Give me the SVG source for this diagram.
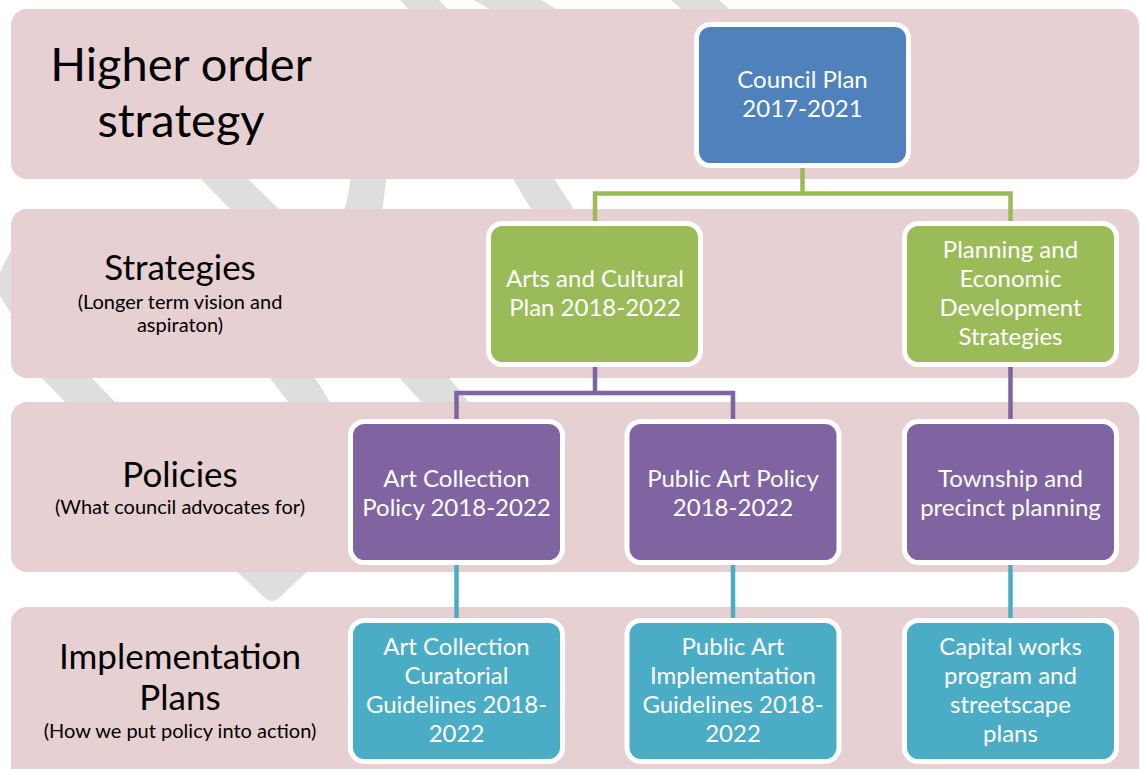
<svg xmlns="http://www.w3.org/2000/svg" width="1140" height="769" viewBox="0 0 1140 769">
  <style>
    .bg { fill: #DEDEDE; }
    .band { fill: #E7D0D1; }
    .box { stroke: #FFFFFF; stroke-width: 5; }
    .blue { fill: #4F81BD; }
    .green { fill: #9BBB59; }
    .purple { fill: #8064A2; }
    .teal { fill: #4BACC6; }
    .nt { font-family: Lato, "Open Sans", sans-serif; font-size: 24px; fill: #FFFFFF; text-anchor: middle; }
    .big { font-family: Lato, "Open Sans", sans-serif; font-size: 47px; fill: #000000; text-anchor: middle; }
    .mid { font-family: Lato, "Open Sans", sans-serif; font-size: 35px; fill: #000000; text-anchor: middle; }
    .sm { font-family: Lato, "Open Sans", sans-serif; font-size: 20px; fill: #000000; text-anchor: middle; }
    .c { fill: none; stroke-width: 4.5; }
  </style>
  <rect x="0" y="0" width="1140" height="769" fill="#FFFFFF"/>
  <g id="background-graphic">
    <polygon class="bg" points="400,0 439,0 452,14 413,14"/>
    <polygon class="bg" points="474,0 541,0 565,14 498,14"/>
    <polygon class="bg" points="671,0 719,0 735,14 687,14"/>
    <polygon class="bg" points="196,174 243,174 284,214 235,214"/>
    <path class="bg" d="M351,174 L387,174 Q384,196 382,214 L343,214 Q349,196 351,174 Z"/>
    <polygon class="bg" points="510,174 551,174 577,214 534,214"/>
    <polygon class="bg" points="37,373 87,373 120,407 70,407"/>
    <polygon class="bg" points="266,373 312,373 333,407 292,407"/>
    <polygon class="bg" points="395,373 445,373 473,407 426,407"/>
    <path class="bg" d="M232,567 L312,567 L280,597 Q272,605 264,597 Z"/>
    <polygon class="bg" points="0,272 16,240 16,322 0,296"/>
  </g>
  <g id="bands">
    <rect class="band" x="11" y="9" width="1128" height="170" rx="16"/>
    <rect class="band" x="11" y="209" width="1128" height="169" rx="16"/>
    <rect class="band" x="11" y="402" width="1128" height="170" rx="16"/>
    <rect class="band" x="11" y="607" width="1128" height="180" rx="16"/>
  </g>
  <g id="row-labels">
    <text class="big" x="181" y="81">Higher order</text>
    <text class="big" x="181" y="137">strategy</text>
    <text class="mid" x="180" y="280">Strategies</text>
    <text class="sm" x="180" y="309">(Longer term vision and</text>
    <text class="sm" x="180" y="332">aspiraton)</text>
    <text class="mid" x="180" y="487">Policies</text>
    <text class="sm" x="180" y="514">(What council advocates for)</text>
    <text class="mid" x="180" y="669">Implementation</text>
    <text class="mid" x="180" y="710">Plans</text>
    <text class="sm" x="180" y="738">(How we put policy into action)</text>
  </g>
  <g id="connectors">
    <polyline class="c" stroke="#9BBB59" points="802.5,163 802.5,193.5"/>
    <polyline class="c" stroke="#9BBB59" points="595,226 595,193.5 1010.5,193.5 1010.5,226"/>
    <polyline class="c" stroke="#8064A2" points="595,362 595,393"/>
    <polyline class="c" stroke="#8064A2" points="456.5,424 456.5,393 733,393 733,424"/>
    <polyline class="c" stroke="#8064A2" points="1010.5,362 1010.5,424"/>
    <polyline class="c" stroke="#4BACC6" points="456.5,560 456.5,623"/>
    <polyline class="c" stroke="#4BACC6" points="733,560 733,623"/>
    <polyline class="c" stroke="#4BACC6" points="1010.5,560 1010.5,623"/>
  </g>
  <g id="council-plan">
    <rect class="box blue" x="696.5" y="24.5" width="212" height="141" rx="14"/>
    <text class="nt" x="802.5" y="88">Council Plan</text>
    <text class="nt" x="802.5" y="117">2017-2021</text>
  </g>
  <g id="arts-cultural-plan">
    <rect class="box green" x="488.5" y="223.5" width="212" height="141" rx="14"/>
    <text class="nt" x="595" y="287">Arts and Cultural</text>
    <text class="nt" x="595" y="316">Plan 2018-2022</text>
  </g>
  <g id="planning-economic">
    <rect class="box green" x="904.5" y="223.5" width="212" height="141" rx="14"/>
    <text class="nt" x="1010.5" y="258">Planning and</text>
    <text class="nt" x="1010.5" y="287">Economic</text>
    <text class="nt" x="1010.5" y="316">Development</text>
    <text class="nt" x="1010.5" y="345">Strategies</text>
  </g>
  <g id="art-collection-policy">
    <rect class="box purple" x="350.5" y="421.5" width="212" height="141" rx="14"/>
    <text class="nt" x="456.5" y="487">Art Collection</text>
    <text class="nt" x="456.5" y="516">Policy 2018-2022</text>
  </g>
  <g id="public-art-policy">
    <rect class="box purple" x="627" y="421.5" width="212" height="141" rx="14"/>
    <text class="nt" x="733" y="487">Public Art Policy</text>
    <text class="nt" x="733" y="516">2018-2022</text>
  </g>
  <g id="township-precinct">
    <rect class="box purple" x="904.5" y="421.5" width="212" height="141" rx="14"/>
    <text class="nt" x="1010.5" y="487">Township and</text>
    <text class="nt" x="1010.5" y="516">precinct planning</text>
  </g>
  <g id="art-collection-guidelines">
    <rect class="box teal" x="350.5" y="620.5" width="212" height="141" rx="14"/>
    <text class="nt" x="456.5" y="655">Art Collection</text>
    <text class="nt" x="456.5" y="684">Curatorial</text>
    <text class="nt" x="456.5" y="713">Guidelines 2018-</text>
    <text class="nt" x="456.5" y="742">2022</text>
  </g>
  <g id="public-art-guidelines">
    <rect class="box teal" x="627" y="620.5" width="212" height="141" rx="14"/>
    <text class="nt" x="733" y="655">Public Art</text>
    <text class="nt" x="733" y="684">Implementation</text>
    <text class="nt" x="733" y="713">Guidelines 2018-</text>
    <text class="nt" x="733" y="742">2022</text>
  </g>
  <g id="capital-works">
    <rect class="box teal" x="904.5" y="620.5" width="212" height="141" rx="14"/>
    <text class="nt" x="1010.5" y="655">Capital works</text>
    <text class="nt" x="1010.5" y="684">program and</text>
    <text class="nt" x="1010.5" y="713">streetscape</text>
    <text class="nt" x="1010.5" y="742">plans</text>
  </g>
</svg>
